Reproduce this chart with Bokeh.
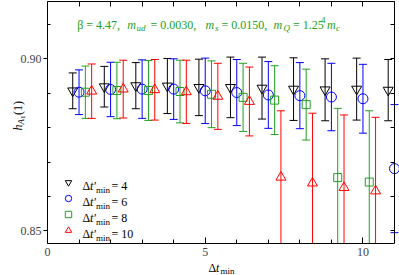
from bokeh.plotting import figure
from bokeh.models import (Range1d, LinearAxis, FixedTicker, Label, Legend, LegendItem,
                          CustomJSTickFormatter)
from bokeh.embed import file_html
from bokeh.resources import INLINE

# ---------------- data ----------------
dt4_x = [0.8, 1.8, 2.8, 3.8, 4.8, 5.8, 6.8, 7.8, 8.8, 9.8, 10.8]
dt4_y = [0.8907, 0.8919, 0.8922, 0.8921, 0.8917, 0.8917, 0.8915, 0.8912, 0.8910, 0.8912, 0.8909]
dt4_e = [0.0052, 0.0059, 0.0067, 0.0080, 0.0082, 0.0088, 0.0090, 0.0091, 0.0090, 0.0090, 0.0089]

dt6_x = [1.0, 2.0, 3.0, 4.0, 5.0, 6.0, 7.0, 8.0, 9.0, 10.0, 11.0]
dt6_y = [0.8903, 0.8911, 0.8912, 0.8912, 0.8907, 0.8902, 0.8895, 0.8893, 0.8889, 0.8884, 0.8681]
dt6_e = [0.0065, 0.0079, 0.0085, 0.0088, 0.0095, 0.0096, 0.0097, 0.0096, 0.0098, 0.0100, 0.0186]

dt8_x = [1.2, 2.2, 3.2, 4.2, 5.2, 6.2, 7.2, 8.2, 9.2, 10.2]
dt8_y = [0.8903, 0.8908, 0.8908, 0.8905, 0.8897, 0.8888, 0.8880, 0.8867, 0.8655, 0.8642]
dt8_e = [0.0076, 0.0082, 0.0087, 0.0091, 0.0097, 0.0099, 0.0100, 0.0103, 0.0201, 0.0207]

dt10_x = [1.4, 2.4, 3.4, 4.4, 5.4, 6.4, 7.4, 8.4, 9.4, 10.4]
dt10_y = [0.8906, 0.8912, 0.8910, 0.8904, 0.8891, 0.8876, 0.8656, 0.8639, 0.8626, 0.8616]
dt10_e = [0.0079, 0.0084, 0.0088, 0.0092, 0.0096, 0.0100, 0.0193, 0.0203, 0.0211, 0.0214]

legend_values = ["4", "6", "8", "10"]

X_MIN, X_MAX = 0.0, 11.0
Y_MIN, Y_MAX = 0.84635, 0.91665
x_major = [0, 5, 10]
x_minor = [1, 2, 3, 4, 6, 7, 8, 9]
x_top = [0, 1, 2, 3, 4, 5, 6, 7, 8, 9, 10, 11]
y_major = [0.85, 0.90]
y_major_labels = ["0.85", "0.90"]
y_minor = [0.86, 0.87, 0.88, 0.89, 0.91]
y_right = [0.85, 0.86, 0.87, 0.88, 0.89, 0.90, 0.91]

FONT = "Liberation Serif"
GREEN = "#22a022"

# ---------------- layout (page pixels) ----------------
W, H = 399, 275
AX_L, AX_R, AX_T, AX_B = 47, 394, 1, 243   # where the plot box is drawn
sx = (AX_R - AX_L) / (X_MAX - X_MIN)
sy = (AX_B - AX_T) / (Y_MAX - Y_MIN)
x_range = Range1d(X_MIN - AX_L / sx, X_MAX + (W - AX_R) / sx)
y_range = Range1d(Y_MIN - (H - AX_B) / sy, Y_MAX + AX_T / sy)

p = figure(width=W, height=H, x_range=x_range, y_range=y_range,
           output_backend="svg", toolbar_location=None,
           min_border_left=0, min_border_right=0, min_border_top=0, min_border_bottom=0)
p.xgrid.visible = False
p.ygrid.visible = False
p.outline_line_color = None
p.background_fill_color = "white"
p.border_fill_color = "white"

blank = CustomJSTickFormatter(code="return ''")

# bottom axis
xa = p.xaxis[0]
xa.fixed_location = Y_MIN
xa.bounds = (X_MIN, X_MAX)
xa.ticker = FixedTicker(ticks=x_major, minor_ticks=x_minor)
xa.major_tick_in = 6
xa.major_tick_out = 0
xa.minor_tick_in = 4
xa.minor_tick_out = 0
xa.major_label_standoff = 4
xa.major_label_text_font = FONT
xa.major_label_text_font_size = "12px"

# left axis
ya = p.yaxis[0]
ya.fixed_location = X_MIN
ya.bounds = (Y_MIN, Y_MAX)
ya.ticker = FixedTicker(ticks=y_major, minor_ticks=y_minor)
ya.major_label_overrides = {t: s for t, s in zip(y_major, y_major_labels)}
ya.major_tick_in = 0
ya.major_tick_out = 4
ya.minor_tick_in = 3
ya.minor_tick_out = 0
ya.major_label_standoff = 2
ya.major_label_text_font = FONT
ya.major_label_text_font_size = "12px"

# top & right axes (ticks only)
top = LinearAxis(fixed_location=Y_MAX, bounds=(X_MIN, X_MAX),
                 ticker=FixedTicker(ticks=x_top, minor_ticks=[]), formatter=blank,
                 major_tick_in=5, major_tick_out=0, minor_tick_in=0, minor_tick_out=0,
                 major_label_standoff=0)
p.add_layout(top, "above")
right = LinearAxis(fixed_location=X_MAX, bounds=(Y_MIN, Y_MAX),
                   ticker=FixedTicker(ticks=y_right, minor_ticks=[]), formatter=blank,
                   major_tick_in=4, major_tick_out=0, minor_tick_in=0, minor_tick_out=0,
                   major_label_standoff=0)
p.add_layout(right, "right")

series = [
    (dt4_x, dt4_y, dt4_e, "black", "inverted_triangle", 10),
    (dt6_x, dt6_y, dt6_e, "blue", "circle", 10),
    (dt8_x, dt8_y, dt8_e, GREEN, "square", 8),
    (dt10_x, dt10_y, dt10_e, "red", "triangle", 10),
]
marker_renderers = []
for xs, ys, es, col, mk, sz in series:
    lo = [max(y - e, Y_MIN) for y, e in zip(ys, es)]
    hi = [min(y + e, Y_MAX) for y, e in zip(ys, es)]
    p.segment(x0=xs, y0=lo, x1=xs, y1=hi, line_color=col, line_width=1)
    cx = [x for x, y, e in zip(xs, ys, es) if Y_MIN <= y - e <= Y_MAX] + \
         [x for x, y, e in zip(xs, ys, es) if Y_MIN <= y + e <= Y_MAX]
    cy = [y - e for y, e in zip(ys, es) if Y_MIN <= y - e <= Y_MAX] + \
         [y + e for y, e in zip(ys, es) if Y_MIN <= y + e <= Y_MAX]
    p.scatter(x=cx, y=cy, marker="dash", size=8, line_color=col, line_width=1)
    r = p.scatter(x=xs, y=ys, marker=mk, size=sz, line_color=col, fill_color=None, line_width=1)
    marker_renderers.append(r)

legend = Legend(items=[LegendItem(label=" ", renderers=[r]) for r in marker_renderers],
                location=(60, H - 237.5), glyph_width=16, glyph_height=16, label_height=16,
                spacing=0, padding=0, margin=0, label_standoff=0,
                label_text_font_size="12px", background_fill_alpha=0, border_line_alpha=0)
p.add_layout(legend)


def lab(text, xp, yp, size=12, italic=False, color="black", angle=0):
    p.add_layout(Label(x=xp, y=H - yp, x_units="screen", y_units="screen", text=text,
                       text_font=FONT, text_font_size=f"{size}px",
                       text_font_style="italic" if italic else "normal",
                       text_color=color, text_baseline="alphabetic", text_align="left",
                       angle=angle, angle_units="deg"))


# title line inside the plot
tb = 24
lab("β = 4.47,", 76.7, tb, color=GREEN)
lab("m", 126.7, tb, italic=True, color=GREEN)
lab("ud", 136, tb + 3.5, size=9, italic=True, color=GREEN)
lab("= 0.0030,", 150, tb, color=GREEN)
lab("m", 205, tb, italic=True, color=GREEN)
lab("s", 214.5, tb + 3.5, size=9, italic=True, color=GREEN)
lab("= 0.0150,", 221, tb, color=GREEN)
lab("m", 273, tb, italic=True, color=GREEN)
lab("Q", 283, tb + 3.5, size=9, italic=True, color=GREEN)
lab("= 1.25", 292.5, tb, color=GREEN)
lab("4", 320.5, tb - 5, size=9, color=GREEN)
lab("m", 326.5, tb, italic=True, color=GREEN)
lab("c", 335.5, tb + 3.5, size=9, italic=True, color=GREEN)

# legend texts
for i, v in enumerate(legend_values):
    bl = 185.7 + 16 * i
    lab("Δ", 82, bl)
    lab("t′", 89.5, bl, italic=True)
    lab("min", 95.5, bl + 3.5, size=9)
    lab("= " + v, 111, bl)

# x-axis title
lab("Δ", 208, 267.5)
lab("t", 215.5, 267.5, italic=True)
lab("min", 220, 270, size=9)

# y-axis title (rotated)
lab("h", 17, 130, italic=True, angle=90)
lab("A", 20, 124, size=9, italic=True, angle=90)
lab("1", 22.5, 118.5, size=7, angle=90)
lab("(1)", 17, 114.5, angle=90)

open("out.html", "w").write(file_html(p, INLINE))
